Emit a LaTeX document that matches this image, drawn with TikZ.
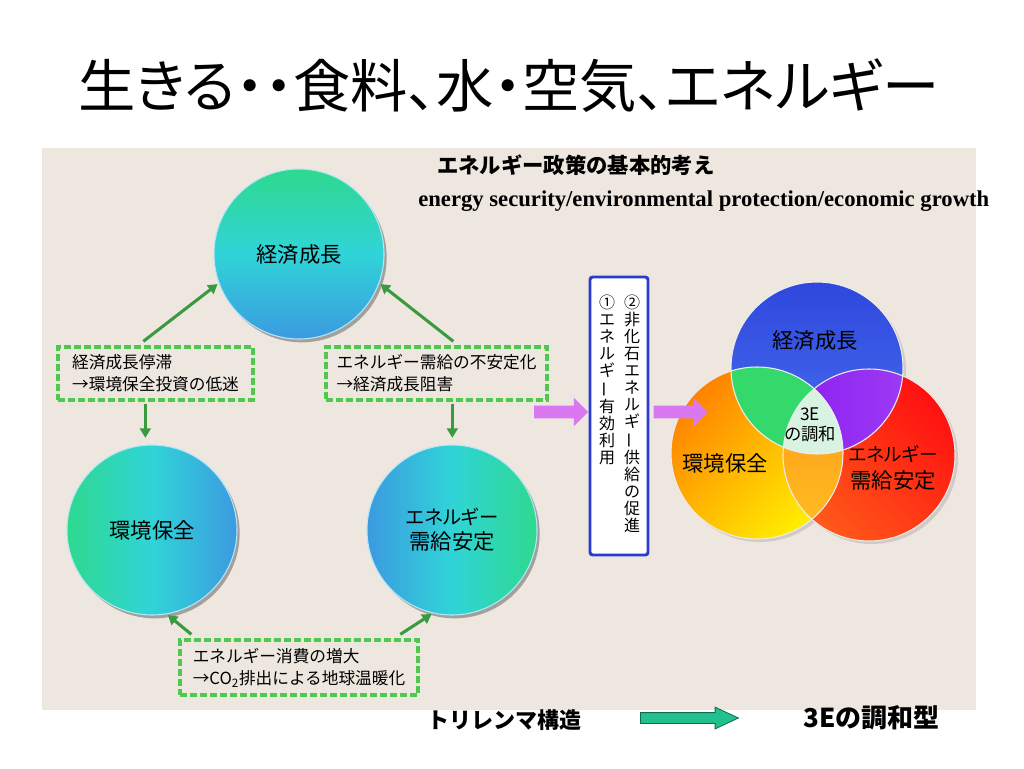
\documentclass[tikz,border=0pt]{standalone}
\usepackage{fontspec}
\usepackage{graphicx}
\setmainfont{Liberation Serif}
\newfontfamily\jp{Noto Sans CJK JP}
\newfontfamily\jpp[RawFeature=+palt]{Noto Sans CJK JP}
\usetikzlibrary{shapes.arrows,shadows,calc,arrows.meta}
\newcommand{\tatebar}{\rotatebox[origin=c]{90}{ー}}
\definecolor{panel}{HTML}{EEE7DF}
\definecolor{cgreen}{HTML}{2ED98E}
\definecolor{ccyan}{HTML}{30D4D8}
\definecolor{cblue}{HTML}{3C9AE0}
\definecolor{dgreen}{HTML}{50C850}
\definecolor{agreen}{HTML}{3A9A3F}
\definecolor{mviolet}{HTML}{DA78F2}
\definecolor{vblue}{HTML}{2B3BD0}
\definecolor{tealarrow}{HTML}{22C08E}
\definecolor{tealdark}{HTML}{0E6B4E}
\definecolor{vbluetop}{HTML}{2F47DD}
\definecolor{vbluebot}{HTML}{4670F0}
\definecolor{vorange}{HTML}{FF8200}
\definecolor{vyellow}{HTML}{FFF000}
\definecolor{vred}{HTML}{FF1010}
\definecolor{vredor}{HTML}{FF5A1A}
\definecolor{vgreen}{HTML}{33D96B}
\definecolor{vpurpleA}{HTML}{8A1EF0}
\definecolor{vpurpleB}{HTML}{A445F5}
\definecolor{vorA}{HTML}{FF961E}
\definecolor{vorB}{HTML}{FFC020}
\definecolor{vcenter}{HTML}{D8F3E2}
\begin{document}
\begin{tikzpicture}[x=0.75pt,y=-0.75pt,
  bigcirc/.style={circle, minimum size=127.5pt, inner sep=0pt, draw=white!70!cyan, line width=0.8pt,
    drop shadow={shadow xshift=2pt, shadow yshift=-2.5pt, fill=black!60, opacity=0.55},
    font=\jpp\fontsize{16}{19}\selectfont, align=center},
  dbox/.style={draw=dgreen, line width=2.5pt, dash pattern=on 5pt off 2.5pt, align=left,
    inner xsep=5pt, inner ysep=3pt, font=\jp\fontsize{12.5}{16.5}\selectfont},
  garrow/.style={draw=agreen, line width=2.3pt, -{Triangle[length=7pt,width=8pt]}, shorten >=1pt},
  marrow/.style={single arrow, fill=mviolet, draw=none, inner xsep=0pt, inner ysep=4.5pt,
    minimum height=40.5pt, single arrow head extend=6pt},
  tarrow/.style={single arrow, fill=tealarrow, draw=tealdark, line width=0.6pt, inner xsep=0pt, inner ysep=3.75pt,
    minimum height=73.5pt, single arrow head extend=4.1pt, single arrow tip angle=50},
  vcol/.style={align=center, inner sep=0pt, font=\jp\fontsize{12}{12.75}\selectfont},
  vlabel/.style={align=center, inner sep=0pt, font=\jpp\fontsize{16}{20}\selectfont},
  heading/.style={anchor=west, inner sep=0pt}
]
\useasboundingbox (0,0) rectangle (1024,768);
\fill[white] (0,0) rectangle (1024,768);
\fill[panel] (42,148) rectangle (976,710);

% title
\node[font=\jpp\fontsize{43}{50}\selectfont, inner sep=0pt] (title) at (509,86) {生きる・・食料、水・空気、エネルギー};

% headings
\node[heading, font=\jp\bfseries\fontsize{16}{19}\selectfont] (h1) at (437,165) {エネルギー政策の基本的考え};
\node[heading, font=\bfseries\fontsize{17}{20}\selectfont] (h2) at (418,201) {energy security/environmental protection/economic growth};

% trilemma circles
\node[bigcirc, top color=cgreen, bottom color=cblue, middle color=ccyan] (eco) at (299,254) {経済成長};
\node[bigcirc, left color=cgreen, right color=cblue, middle color=ccyan] (env) at (152,530) {環境保全};
\node[bigcirc, left color=cblue, right color=cgreen, middle color=ccyan, font=\jpp\fontsize{16}{18.75}\selectfont] (ene) at (452,530) {{\fontsize{14.5}{18.75}\selectfont エネルギー}\\需給安定};

% dashed boxes
\node[dbox, minimum width=146.25pt, minimum height=39.75pt] (lb) at (155.5,373.5) {経済成長停滞\\→環境保全投資の低迷};
\node[dbox, minimum width=165.75pt, minimum height=39.75pt] (rb) at (436.5,373.5) {エネルギー需給の不安定化\\→経済成長阻害};
\node[dbox, minimum width=178.5pt, minimum height=41.25pt] (bb) at (299,667.5) {エネルギー消費の増大\\→CO\textsubscript{2}排出による地球温暖化};

% green connectors
\coordinate (lbt) at ($(lb.north west)+(87,-4)$);
\coordinate (rbt) at ($(rb.north west)+(129,-4)$);
\draw[garrow] (lbt) -- (eco.200);
\draw[garrow] (rbt) -- (eco.340);
\coordinate (lbs) at ($(lb.south west)+(89,2)$);
\coordinate (rbs) at ($(rb.south west)+(128,2)$);
\draw[garrow, shorten >=5pt] (lbs) -- (lbs |- env.north);
\draw[garrow, shorten >=5pt] (rbs) -- (rbs |- ene.north);
\coordinate (bbl) at ($(bb.north west)+(13,-4)$);
\coordinate (bbr) at ($(bb.north west)+(222,-4)$);
\draw[garrow] (bbl) -- (env.-80);
\draw[garrow] (bbr) -- (ene.-103);

% vertical box
\node[draw=vblue, line width=2.2pt, fill=white, rounded corners=2pt, minimum width=43.5pt, minimum height=208.5pt, inner sep=0pt] (vb) at (619,416) {};
\node[vcol, anchor=north] (col2) at ($(vb.north)+(13,19)$) {②\\非\\化\\石\\エ\\ネ\\ル\\ギ\\\tatebar\\供\\給\\の\\促\\進};
\node[vcol, anchor=north] (col1) at ($(vb.north)+(-12,19)$) {①\\エ\\ネ\\ル\\ギ\\\tatebar\\有\\効\\利\\用};

% Venn diagram
\coordinate (B) at (817,368);
\coordinate (O) at (757,453);
\coordinate (R) at (869,455);
\fill[black!40, opacity=0.35] ($(B)+(3,3)$) circle (86);
\fill[black!40, opacity=0.35] ($(O)+(3,3)$) circle (86);
\fill[black!40, opacity=0.35] ($(R)+(3,3)$) circle (86);
\shade[top color=vbluetop, bottom color=vbluebot] (B) circle (86);
\shade[top color=vorange, bottom color=vyellow, shading angle=45] (O) circle (86);
\shade[top color=vred, bottom color=vredor, shading angle=-45] (R) circle (86);
\begin{scope}
  \clip (B) circle (86);
  \fill[vgreen] (O) circle (86);
\end{scope}
\begin{scope}
  \clip (B) circle (86);
  \shade[left color=vpurpleA, right color=vpurpleB] (R) circle (86);
\end{scope}
\begin{scope}
  \clip (O) circle (86);
  \shade[top color=vorA, bottom color=vorB] (R) circle (86);
\end{scope}
\begin{scope}
  \clip (B) circle (86);
  \clip (O) circle (86);
  \fill[vcenter] (R) circle (86);
\end{scope}
\draw[white!85!gray, line width=0.8pt] (B) circle (86);
\draw[white!85!gray, line width=0.8pt] (O) circle (86);
\draw[white!85!gray, line width=0.8pt] (R) circle (86);
\node[vlabel] (vb1) at (815,340) {経済成長};
\node[vlabel] (vb2) at (725,463) {環境保全};
\node[vlabel] (vb3) at (893,468) {{\fontsize{14}{20}\selectfont エネルギー}\\需給安定};
\node[vlabel, font=\jpp\fontsize{13}{15}\selectfont] (vb4) at (810,425) {3E\\の調和};

% violet block arrows
\node[marrow, anchor=tip] (m1) at ($(vb.west)+(0,-4)$) {};
\node[marrow, anchor=tail] (m2) at ($(vb.east)+(4,-4)$) {};

% bottom labels
\node[heading, font=\jp\bfseries\fontsize{16.5}{20}\selectfont] (tri) at (427,720) {トリレンマ構造};
\node[tarrow, anchor=tail] (ta) at (640,718) {};
\node[heading, font=\jp\bfseries\fontsize{19.5}{22}\selectfont] (har) at (803,718) {3Eの調和型};
\end{tikzpicture}
\end{document}
